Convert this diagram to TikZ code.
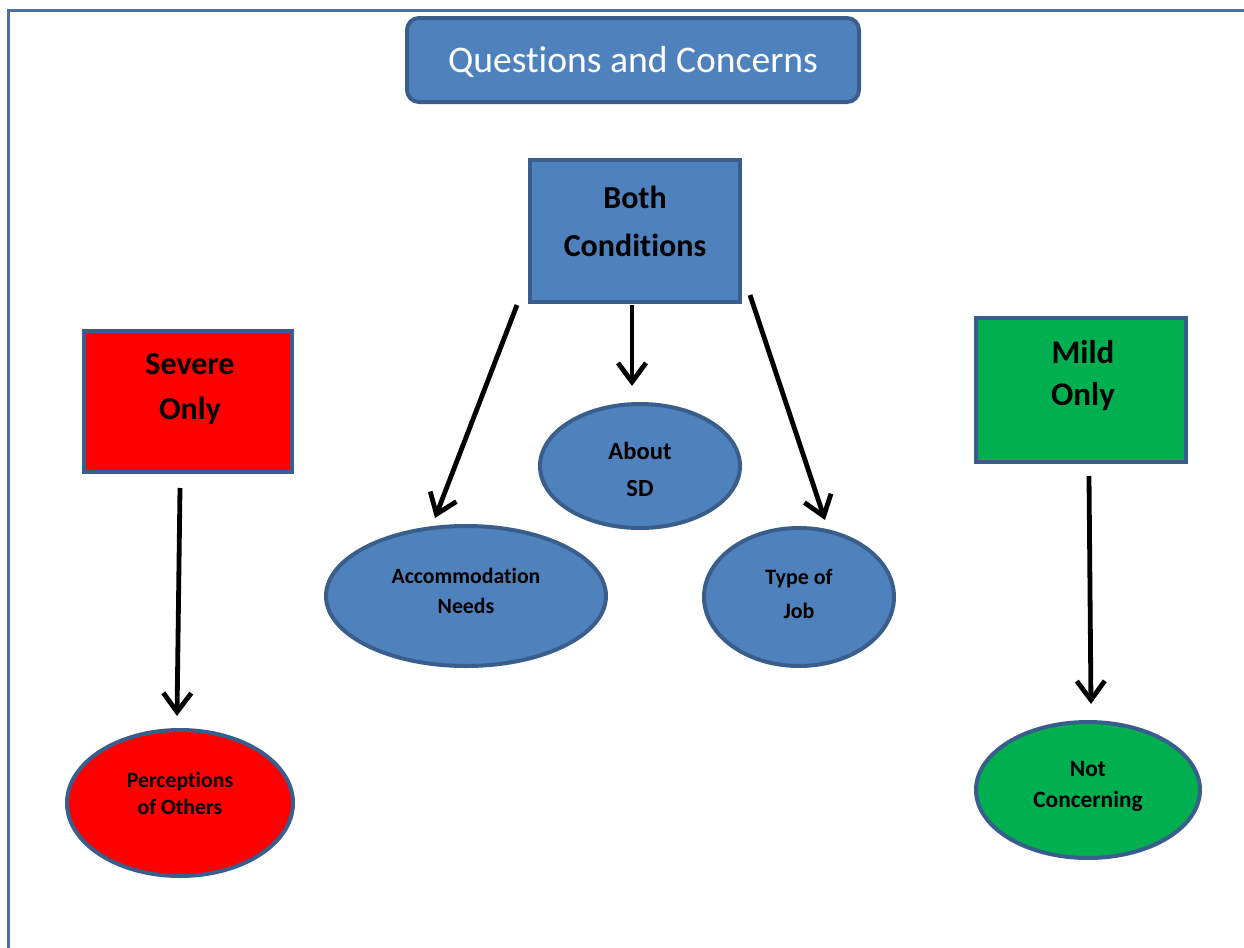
\documentclass[tikz,border=0pt]{standalone}
\usepackage{fontspec}
\setmainfont{Carlito}[Ligatures=NoCommon]
\usetikzlibrary{arrows.meta,shapes.geometric,calc}
\definecolor{officeblue}{HTML}{4F81BD}
\definecolor{edgeblue}{HTML}{3A5E8C}
\definecolor{framecol}{HTML}{4A6FA0}
\definecolor{sevred}{HTML}{FF0000}
\definecolor{mildgreen}{HTML}{00B050}
\begin{document}
\begin{tikzpicture}[x=0.5pt,y=-0.5pt,
  box/.style={draw=edgeblue,line width=2pt,inner sep=0pt},
  oval/.style={ellipse,draw=edgeblue,line width=2pt,inner sep=0pt},
  lbl/.style={align=center,text=black,inner sep=0pt},
  arr/.style={line width=2.4pt,-{Straight Barb[length=9.5pt,width=14pt]}}]
\useasboundingbox (0,0) rectangle (1244,948);
% page frame (left and top edges)
\draw[framecol,line width=1.5pt] (8,948) -- (8,10) -- (1244,10);

% title
\node[box,fill=officeblue,rounded corners=6pt,minimum width=226pt,minimum height=42pt] (title) at (633,60) {};
\node[lbl,text=white,font=\fontsize{18.8}{22}\selectfont] (title-t) at (633,62) {Questions and Concerns};

% category boxes
\node[box,fill=officeblue,minimum width=105pt,minimum height=71pt] (both) at (635,231) {};
\node[lbl,font=\bfseries\fontsize{16}{24}\selectfont] (both-t) at (635,221) {Both\\Conditions};

\node[box,fill=sevred,minimum width=104pt,minimum height=70.5pt] (sev) at (188,401.5) {};
\node[lbl,font=\bfseries\fontsize{16}{22.5}\selectfont] (sev-t) at (190,389) {Severe\\Only};

\node[box,fill=mildgreen,minimum width=105pt,minimum height=72pt] (mild) at (1081,390) {};
\node[lbl,font=\bfseries\fontsize{16.5}{21}\selectfont] (mild-t) at (1083,376) {Mild\\Only};

% concern ovals
\node[oval,fill=officeblue,minimum width=100pt,minimum height=62pt] (about) at (640,466) {};
\node[lbl,font=\bfseries\fontsize{12.3}{18.5}\selectfont] (about-t) at (640,469) {About\\SD};

\node[oval,fill=officeblue,minimum width=140pt,minimum height=70pt] (acc) at (466,596) {};
\node[lbl,font=\bfseries\fontsize{10.9}{15}\selectfont] (acc-t) at (466,591) {Accommodation\\Needs};

\node[oval,fill=officeblue,minimum width=95pt,minimum height=69pt] (job) at (799,597) {};
\node[lbl,font=\bfseries\fontsize{11}{17}\selectfont] (job-t) at (799,594) {Type of\\Job};

\node[oval,fill=sevred,minimum width=113pt,minimum height=73pt] (perc) at (180,803) {};
\node[lbl,font=\bfseries\fontsize{10.9}{13.5}\selectfont] (perc-t) at (180,793) {Perceptions\\of Others};

\node[oval,fill=mildgreen,minimum width=112pt,minimum height=68pt] (notc) at (1088,790) {};
\node[lbl,font=\bfseries\fontsize{11.7}{15.5}\selectfont] (notc-t) at (1088,786) {Not\\Concerning};

% connectors
\draw[arr] ($(both.south west)+(-11,1)$) -- ($(acc.north)+(-31,-6)$);
\draw[arr] ($(both.south)+(-3,1)$) -- ($(about.north)+(-8,-16)$);
\draw[arr] ($(both.south east)+(8,-9)$) -- ($(job.north)+(26,-6)$);
\draw[arr] ($(sev.south)+(-8,14)$) -- ($(perc.north)+(-3,-12)$);
\draw[arr] ($(mild.south)+(8,12)$) -- ($(notc.north)+(3,-16)$);
\end{tikzpicture}
\end{document}
